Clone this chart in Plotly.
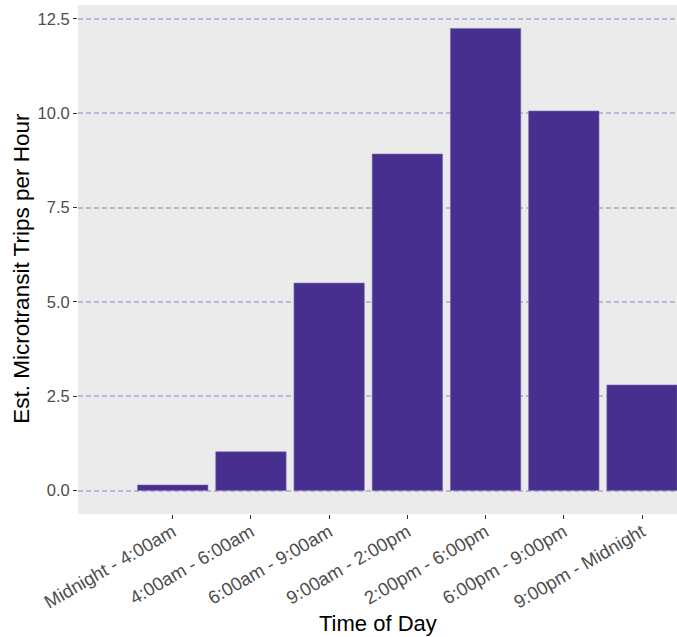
import plotly.graph_objects as go

categories = ["Midnight - 4:00am", "4:00am - 6:00am", "6:00am - 9:00am",
              "9:00am - 2:00pm", "2:00pm - 6:00pm", "6:00pm - 9:00pm",
              "9:00pm - Midnight"]
trips_per_hour = [0.15, 1.03, 5.50, 8.92, 12.25, 10.06, 2.80]
y_ticks = [0.0, 2.5, 5.0, 7.5, 10.0, 12.5]
y_tick_labels = ["0.0", "2.5", "5.0", "7.5", "10.0", "12.5"]
x_title = "Time of Day"
y_title = "Est. Microtransit Trips per Hour"

fig = go.Figure()
fig.add_trace(go.Bar(
    x=list(range(len(categories))),
    y=trips_per_hour,
    width=0.9,
    marker=dict(color="#472F8F", line=dict(color="#7E6FB5", width=0.6)),
))

fig.update_layout(
    width=677, height=637,
    margin=dict(l=78, r=0, t=5, b=123),
    paper_bgcolor="white",
    plot_bgcolor="#EBEBEB",
    showlegend=False,
    font=dict(family="Liberation Sans, Arial, sans-serif", color="#4D4D4D"),
    xaxis=dict(
        range=[-1.211, 6.447],
        automargin=False,
        tickmode="array",
        tickvals=list(range(len(categories))),
        ticktext=categories,
        tickangle=-30,
        tickfont=dict(size=18.5, color="#4D4D4D"),
        ticks="outside", ticklen=4, tickcolor="#333333", tickwidth=1,
        ticklabelstandoff=-5,
        showgrid=False, zeroline=False,
    ),
    yaxis=dict(
        range=[-0.62, 12.87],
        automargin=False,
        tickmode="array",
        tickvals=y_ticks,
        ticktext=y_tick_labels,
        tickfont=dict(size=16.5, color="#4D4D4D"),
        ticks="outside", ticklen=4, tickcolor="#333333", tickwidth=1,
        showgrid=True, gridcolor="#BDB7DC", gridwidth=2, griddash="5px,3px",
        zeroline=False,
    ),
    annotations=[
        dict(text=x_title, xref="paper", yref="paper", x=0.5, y=-0.216,
             xanchor="center", yanchor="middle", showarrow=False,
             font=dict(size=22, color="black")),
        dict(text=y_title, xref="paper", yref="paper", x=-0.0935, y=0.484,
             xanchor="center", yanchor="middle", showarrow=False, textangle=-90,
             font=dict(size=22.5, color="black")),
    ],
)

fig.write_html("out.html", config={"displayModeBar": False},
               post_script="document.body.style.margin='0';")
